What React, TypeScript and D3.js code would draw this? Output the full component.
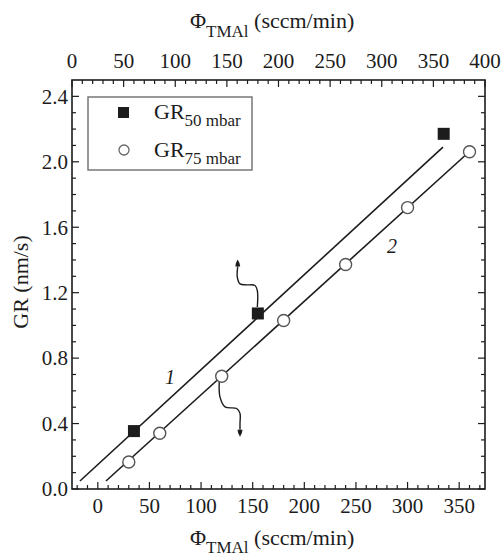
import React from 'react';
import * as d3 from 'd3';

const W = 503;
const H = 557;
const FRAME = { left: 72, right: 485, top: 80, bottom: 489 };

// Axis ticks
const topMajor = [0, 50, 100, 150, 200, 250, 300, 350, 400];
const bottomMajor = [0, 50, 100, 150, 200, 250, 300, 350];
const yMajor = [0, 0.4, 0.8, 1.2, 1.6, 2.0, 2.4];

// GR at 50 mbar (top axis, squares)
const sqX = [60, 180, 360];
const sqY = [0.354, 1.073, 2.171];
// GR at 75 mbar (bottom axis, circles)
const ciX = [30, 60, 120, 180, 240, 300, 360];
const ciY = [0.165, 0.341, 0.689, 1.03, 1.372, 1.72, 2.061];

// Fit lines
const fit1X = [7.7, 359.3]; // top axis units
const fit1Y = [0.049, 2.09];
const fit2X = [7.9, 359.5]; // bottom axis units
const fit2Y = [0.049, 2.06];

// Annotation arrows (bottom-axis units)
const arrowUpX = [154.5, 154.5, 152.2, 144.2, 137.7, 135.1, 135.5];
const arrowUpY = [1.112, 1.213, 1.244, 1.248, 1.254, 1.295, 1.36];
const arrowDownX = [117.7, 118.3, 123.2, 134.5, 137.7, 137.7, 137.7];
const arrowDownY = [0.665, 0.563, 0.502, 0.492, 0.462, 0.4, 0.362];

const labelsText = ['1', '2'];
const labelsX = [69.9, 284.9];
const labelsY = [0.683, 1.488];

const FONT = '"Liberation Serif", "DejaVu Serif", serif';
const INK = '#1c1c1c';

export default function App() {
  const xTop = d3.scaleLinear().domain([0, 400]).range([FRAME.left, FRAME.right]);
  const xBot = d3.scaleLinear().domain([-25, 375]).range([FRAME.left, FRAME.right]);
  const y = d3.scaleLinear().domain([0, 2.5]).range([FRAME.bottom, FRAME.top]);

  const topMinor = d3.range(0, 401, 10);
  const botMinor = d3.range(-20, 376, 10);
  const yMinor = d3.range(0, 25).map((i) => i / 10);

  const line = d3.line<[number, number]>().curve(d3.curveCatmullRom.alpha(0.5));
  const upPts: [number, number][] = arrowUpX.map((v, i) => [xBot(v), y(arrowUpY[i])]);
  const downPts: [number, number][] = arrowDownX.map((v, i) => [xBot(v), y(arrowDownY[i])]);

  const majLen = 7;
  const minLen = 4;
  const fmt = d3.format('.1f');

  const arrowHead = (p: [number, number], dir: number) => {
    const [px, py] = p;
    const tip = py + dir * 7;
    return `M${px - 2.5},${py} Q${px - 2.5},${py + dir * 3} ${px},${tip} Q${px + 2.5},${py + dir * 3} ${px + 2.5},${py} Z`;
  };

  return (
    <svg width={W} height={H} style={{ position: 'absolute', left: 0, top: 0, background: '#fff' }} fontFamily={FONT}>
      {/* Frame */}
      <rect x={FRAME.left} y={FRAME.top} width={FRAME.right - FRAME.left} height={FRAME.bottom - FRAME.top} fill="none" stroke={INK} strokeWidth={1.6} />

      {/* Top ticks */}
      {topMinor.map((t) => (
        <line key={'tm' + t} x1={xTop(t)} x2={xTop(t)} y1={FRAME.top} y2={FRAME.top + (t % 50 === 0 ? majLen : minLen)} stroke={INK} strokeWidth={1.2} />
      ))}
      {topMajor.map((t) => (
        <text key={'tl' + t} x={xTop(t)} y={68} textAnchor="middle" fontSize={21} fill={INK}>{t}</text>
      ))}

      {/* Bottom ticks */}
      {botMinor.map((t) => (
        <line key={'bm' + t} x1={xBot(t)} x2={xBot(t)} y1={FRAME.bottom} y2={FRAME.bottom - (t % 50 === 0 ? majLen : minLen)} stroke={INK} strokeWidth={1.2} />
      ))}
      {bottomMajor.map((t) => (
        <text key={'bl' + t} x={xBot(t)} y={513} textAnchor="middle" fontSize={21} fill={INK}>{t}</text>
      ))}

      {/* Y ticks */}
      {yMinor.map((t, i) => (
        <g key={'ym' + i}>
          <line x1={FRAME.left} x2={FRAME.left + (i % 4 === 0 ? majLen : minLen)} y1={y(t)} y2={y(t)} stroke={INK} strokeWidth={1.2} />
          <line x1={FRAME.right} x2={FRAME.right - (i % 4 === 0 ? majLen : minLen)} y1={y(t)} y2={y(t)} stroke={INK} strokeWidth={1.2} />
        </g>
      ))}
      {yMajor.map((t) => (
        <text key={'yl' + t} x={68} y={y(t)} dy="0.35em" textAnchor="end" fontSize={21} fill={INK}>{fmt(t)}</text>
      ))}

      {/* Axis titles */}
      <text x={190} y={28} fontSize={22} fill={INK}>
        Φ<tspan fontSize={17} dy={9}>TMAl</tspan><tspan dy={-9}> (sccm/min)</tspan>
      </text>
      <text x={190} y={545} fontSize={22} fill={INK}>
        Φ<tspan fontSize={17} dy={8}>TMAl</tspan><tspan dy={-8}> (sccm/min)</tspan>
      </text>
      <text transform={`translate(28,${282}) rotate(-90)`} textAnchor="middle" fontSize={22} fill={INK}>GR (nm/s)</text>

      {/* Fit lines */}
      <line x1={xTop(fit1X[0])} y1={y(fit1Y[0])} x2={xTop(fit1X[1])} y2={y(fit1Y[1])} stroke={INK} strokeWidth={1.6} />
      <line x1={xBot(fit2X[0])} y1={y(fit2Y[0])} x2={xBot(fit2X[1])} y2={y(fit2Y[1])} stroke={INK} strokeWidth={1.6} />

      {/* Arrows */}
      <path d={line(upPts) || ''} fill="none" stroke={INK} strokeWidth={1.4} />
      <path d={arrowHead(upPts[upPts.length - 1], -1)} fill={INK} />
      <path d={line(downPts) || ''} fill="none" stroke={INK} strokeWidth={1.4} />
      <path d={arrowHead(downPts[downPts.length - 1], 1)} fill={INK} />

      {/* Squares */}
      {sqX.map((v, i) => (
        <rect key={'sq' + i} x={xTop(v) - 6} y={y(sqY[i]) - 6} width={12} height={12} fill={INK} />
      ))}
      {/* Circles */}
      {ciX.map((v, i) => (
        <circle key={'ci' + i} cx={xBot(v)} cy={y(ciY[i])} r={6} fill="#fff" stroke="#555" strokeWidth={1.4} />
      ))}

      {/* Line labels */}
      {labelsText.map((t, i) => (
        <text key={'lab' + i} x={xBot(labelsX[i])} y={y(labelsY[i])} dy="0.35em" textAnchor="middle" fontSize={20} fontStyle="italic" fill={INK}>{t}</text>
      ))}

      {/* Legend */}
      <rect x={88} y={97} width={164} height={73} fill="#fff" stroke="#777" strokeWidth={1.5} />
      <rect x={118} y={107} width={11} height={11} fill={INK} />
      <circle cx={124} cy={150} r={5} fill="#fff" stroke="#666" strokeWidth={1.3} />
      <text x={154} y={119} fontSize={22} fill={INK}>GR<tspan fontSize={17} dy={7}>50 mbar</tspan></text>
      <text x={154} y={157} fontSize={22} fill={INK}>GR<tspan fontSize={17} dy={7}>75 mbar</tspan></text>
    </svg>
  );
}
